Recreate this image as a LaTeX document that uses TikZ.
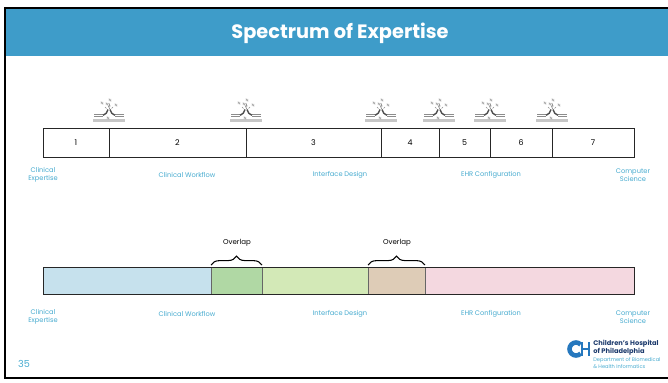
\documentclass[tikz,border=0pt]{standalone}
\usepackage{fontspec}
\setmainfont{Poppins}
\usetikzlibrary{decorations.pathreplacing,positioning}
\definecolor{TitleBlue}{RGB}{62,156,201}
\definecolor{LabelBlue}{RGB}{72,172,208}
\definecolor{IconGray}{RGB}{140,140,140}
\definecolor{LogoNavy}{RGB}{28,58,108}
\definecolor{LogoBlue}{RGB}{38,120,190}
\definecolor{SegBlue}{RGB}{198,225,237}
\definecolor{SegGreen}{RGB}{176,216,164}
\definecolor{SegLime}{RGB}{211,233,183}
\definecolor{SegTan}{RGB}{222,204,183}
\definecolor{SegPink}{RGB}{244,216,224}
\tikzset{
  cell/.style={draw=black!85,line width=0.45pt},
  numlbl/.style={font=\fontsize{4.5}{5}\selectfont,inner sep=0pt},
  fieldlbl/.style={text=LabelBlue,font=\fontsize{3.8}{4.6}\selectfont,
                   align=center,inner sep=0pt},
  seg/.style={draw=black!60,line width=0.45pt},
  ovbrace/.style={decorate,decoration={brace,amplitude=5pt},line width=0.6pt},
  ovlbl/.style={font=\fontsize{4}{5}\selectfont,inner sep=0pt},
  % two cable plugs meeting, with a little spark
  plug/.pic={
    \draw[IconGray!50,line width=1.4pt] (-16,9.5) -- (16,9.5);
    \draw[IconGray,line width=0.4pt] (-15,3) -- (-6,3) (-15,5.5) -- (-6,5.5);
    \draw[IconGray,line width=0.4pt] (15,3) -- (6,3) (15,5.5) -- (6,5.5);
    \draw[black!70,line width=0.8pt] (-6,4.3) .. controls (-3,4) and (-2,1) .. (-1,-1.5);
    \draw[black!70,line width=0.8pt] (6,4.3) .. controls (3,4) and (2,1) .. (1,-1.5);
    \draw[IconGray,line width=0.4pt] (0.8,-2) -- (-0.6,-5) -- (1,-5) -- (-0.2,-8);
    \draw[IconGray,line width=0.35pt] (-4,-4) -- (-2.5,-2.5) (4,-4) -- (2.5,-2.5);
    \foreach \nx/\ny in {-7/-8,1/-11,7/-6,-2/-7,-1/7}
      \draw[IconGray!80,line width=0.3pt]
        (\nx-0.9,\ny+1.1) -- (\nx-0.9,\ny-1.1) -- (\nx+0.9,\ny+1.1) -- (\nx+0.9,\ny-1.1);
  },
}

\begin{document}
\begin{tikzpicture}[x=0.02cm,y=-0.02cm]
  \useasboundingbox (0,0) rectangle (668,382);
  \fill[white] (0,0) rectangle (668,382);

  % slide frame and title band
  \fill[TitleBlue] (6,9) rectangle (668,56);
  \draw[black,line width=1.2pt] (668,8) -- (5,8) -- (5,378) -- (668,378);
  \node[text=white,font=\bfseries\fontsize{11}{13}\selectfont] (title) at (340,33) {Spectrum of Expertise};

  % numbered spectrum
  \foreach \n/\a/\b in {1/43/109,2/109/246,3/246/381,4/381/439,5/439/490,6/490/552,7/552/634}{
    \draw[cell] (\a,128) rectangle (\b,157);
    \node[numlbl] (num\n) at ({(\a+\b)/2},142.5) {\n};
  }
  \foreach \px in {109,246,381,439,490,552}
    \pic at (\px,111) {plug};

  \node[fieldlbl] (clinA) at (43,175) {Clinical\\Expertise};
  \node[fieldlbl] (flowA) at (187,175) {Clinical Workflow};
  \node[fieldlbl] (ifaceA) at (340,175) {Interface Design};
  \node[fieldlbl] (ehrA) at (491,175) {EHR Configuration};
  \node[fieldlbl] (compA) at (633,175) {Computer\\Science};

  % coloured spectrum with overlaps
  \fill[SegBlue] (43,267) rectangle (211,294);
  \fill[SegLime] (262,267) rectangle (368,294);
  \fill[SegPink] (425,267) rectangle (634,294);
  \draw[seg,fill=SegGreen] (211,267) rectangle (262,294);
  \draw[seg,fill=SegTan] (368,267) rectangle (425,294);
  \draw[cell] (43,267) rectangle (634,294);

  \draw[ovbrace] (211,265) -- (262,265);
  \node[ovlbl] (ov1) at (237,243) {Overlap};
  \draw[ovbrace] (368,265) -- (425,265);
  \node[ovlbl] (ov2) at (397,243) {Overlap};

  \node[fieldlbl] (clinB) at (43,317) {Clinical\\Expertise};
  \node[fieldlbl] (flowB) at (187,314) {Clinical Workflow};
  \node[fieldlbl] (ifaceB) at (340,314) {Interface Design};
  \node[fieldlbl] (ehrB) at (491,314) {EHR Configuration};
  \node[fieldlbl] (compB) at (633,317) {Computer\\Science};

  % footer
  \node[text=LabelBlue,font=\fontsize{5.5}{6}\selectfont] (page) at (24,364) {35};
  \draw[LogoBlue,line width=2.6pt] (576,349) ++(45:6.5) arc (45:315:6.5);
  \draw[LogoBlue,line width=1.6pt] (582,342) -- (582,356) (589,342) -- (589,356) (582,349) -- (589,349);
  \node[anchor=north west,align=left,text=LogoNavy,inner sep=0pt,
        font=\bfseries\fontsize{3.8}{4.4}\selectfont] (hosp) at (593,340) {Children's Hospital\\of Philadelphia};
  \node[align=left,text=LabelBlue,inner sep=0pt,
        font=\fontsize{2.9}{3.5}\selectfont,below=1.2pt of hosp.south west,anchor=north west] (dept) {Department of Biomedical\\\& Health Informatics};
\end{tikzpicture}
\end{document}
